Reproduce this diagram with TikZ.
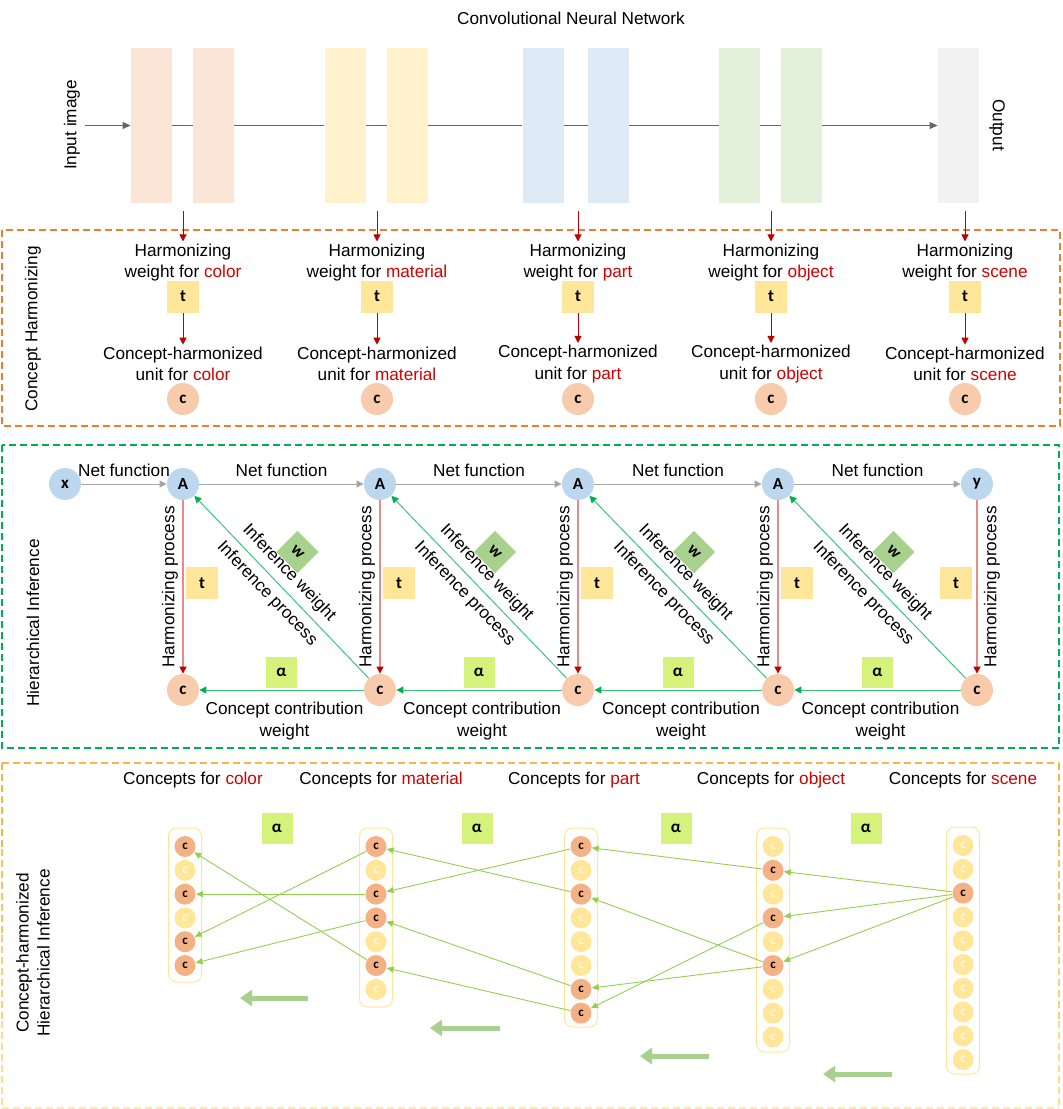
\documentclass[tikz,border=0pt]{standalone}
\usepackage{fontspec}
\setmainfont{Liberation Sans}
\newfontfamily\glyphfont{Carlito}
\usetikzlibrary{arrows.meta}

\definecolor{layerpeach}{HTML}{FBE5D6}
\definecolor{layeryellow}{HTML}{FFF2CC}
\definecolor{layerblue}{HTML}{DEEBF7}
\definecolor{layergreen}{HTML}{E2F0D9}
\definecolor{layergrey}{HTML}{F2F2F2}
\definecolor{conceptred}{HTML}{D20000}
\definecolor{unitpeach}{HTML}{F8CBAD}
\definecolor{actblue}{HTML}{BDD7EE}
\definecolor{harmyellow}{HTML}{FFE699}
\definecolor{alphalime}{HTML}{D5F27B}
\definecolor{weightgreen}{HTML}{A9D18E}
\definecolor{darkorange}{HTML}{F4B183}
\definecolor{paleyellow}{HTML}{FFF6DA}
\definecolor{boxorange}{HTML}{ED7D31}
\definecolor{boxgreen}{HTML}{00B050}
\definecolor{boxamber}{HTML}{F7B547}
\definecolor{boxpale}{HTML}{FFE8A8}
\definecolor{linkgreen}{HTML}{92D050}
\definecolor{infgreen}{HTML}{3CC47A}
\definecolor{harmpink}{HTML}{E98A8A}
\definecolor{harmred}{HTML}{C00000}

\tikzset{
  layer/.style={rectangle, minimum width=20.5pt, minimum height=77.5pt, inner sep=0pt},
  cnnline/.style={draw=black!60, line width=0.5pt},
  twoline/.style={align=center, inner sep=1pt},
  glyph/.style={font=\glyphfont\bfseries\fontsize{8.5}{10}\selectfont, text=black},
  tbox/.style={glyph, rectangle, fill=harmyellow, minimum size=16pt, inner sep=0pt},
  abox/.style={glyph, rectangle, fill=alphalime, minimum size=15.5pt, inner sep=0pt},
  wbox/.style={glyph, rectangle, fill=weightgreen, minimum size=15pt, inner sep=0pt, rotate=-45},
  cnode/.style={glyph, circle, fill=unitpeach, minimum size=16pt, inner sep=0pt},
  anode/.style={glyph, circle, fill=actblue, minimum size=16pt, inner sep=0pt},
  cdark/.style={circle, fill=darkorange, minimum size=10.5pt, inner sep=0pt,
    font=\glyphfont\bfseries\fontsize{6.5}{7}\selectfont, text=black},
  clight/.style={cdark, fill=harmyellow, text=paleyellow},
  colframe/.style={draw=harmyellow, line width=0.5pt, rounded corners=4pt},
  dashbox/.style={line width=0.7pt, dash pattern=on 3.5pt off 2pt},
  redarrow/.style={draw=harmred, line width=0.5pt, -{Triangle[length=3.5pt,width=3.5pt]}},
  netarrow/.style={draw=black!35, line width=0.5pt, -{Triangle[length=3.5pt,width=3.5pt]}},
  harmline/.style={draw=harmpink, line width=0.6pt, -{Triangle[length=3.5pt,width=3.5pt,color=harmred]}},
  infarrow/.style={draw=infgreen, line width=0.5pt, -{Triangle[length=3.5pt,width=3.5pt,color=boxgreen]}},
  conarrow/.style={draw=linkgreen, line width=0.45pt, -{Triangle[length=3.5pt,width=3pt]}},
  flowarrow/.style={draw=weightgreen, line width=2.5pt, -{Triangle[length=6pt,width=8pt]}}
}

\begin{document}
\begin{tikzpicture}[x=0.5pt, y=-0.5pt, font=\fontsize{8.6}{10.6}\selectfont]
\useasboundingbox (0,0) rectangle (1063,1109);

% convolutional network
\node (cnn) at (571,18) {Convolutional Neural Network};
\foreach \x/\col [count=\i] in {151.5/layerpeach, 213.5/layerpeach, 345/layeryellow, 407.5/layeryellow,
    543/layerblue, 608.5/layerblue, 739.5/layergreen, 801.5/layergreen, 958.5/layergrey}
  \node[layer, fill=\col] (L\i) at (\x,125.5) {};
\coordinate (img) at (85,125.5);
\draw[cnnline, -{Triangle[length=4pt,width=3.5pt]}] (img) -- (L1);
\foreach \i/\j in {1/2,2/3,3/4,4/5,5/6,6/7,7/8}
  \draw[cnnline] (L\i) -- (L\j);
\draw[cnnline, -{Triangle[length=4pt,width=3.5pt]}] (L8) -- (L9);
\node[rotate=90] (inlbl) at (72,125) {Input image};
\node[rotate=-90] (outlbl) at (997,125) {Output};

% concept harmonizing
\draw[dashbox, draw=boxorange] (2,230) rectangle (1060,426);
\node[rotate=90] (chlbl) at (33,329) {Concept Harmonizing};
\foreach \x/\cpt [count=\n] in {183/color, 377/material, 578/part, 771/object, 965/scene}{
  \coordinate (tap\n) at (\x,211);
  \node[twoline] (hw\n) at (\x,262.5) {Harmonizing\\weight for \textcolor{conceptred}{\cpt}};
  \node[tbox] (ht\n) at (\x,296.5) {t};
  \node[twoline] (hu\n) at (\x,364) {Concept-harmonized\\unit for \textcolor{conceptred}{\cpt}};
  \node[cnode] (hc\n) at (\x,399) {c};
  \draw[redarrow] (tap\n) -- (hw\n);
  \draw[redarrow] (ht\n) -- (hu\n);
}

% hierarchical inference
\draw[dashbox, draw=boxgreen] (2,445) rectangle (1059,748);
\node[rotate=90] (hilbl) at (33,623) {Hierarchical Inference};
\node[anode] (top0) at (65,484) {x};
\foreach \x [count=\i] in {183,380,578,778}
  \node[anode] (top\i) at (\x,484) {A};
\node[anode] (top5) at (977,484) {y};
\foreach \x [count=\i] in {183,380,578,778,977}
  \node[cnode] (bot\i) at (\x,690) {c};
\draw[netarrow] (top0) -- (top1) node[midway, above] (nf1) {Net function};
\foreach \i/\hx/\tx in {1/170/202, 2/367/399, 3/565/597, 4/765/797, 5/992/956}{
  \draw[harmline] (top\i) -- (bot\i);
  \node[rotate=90] (hp\i) at (\hx,587) {Harmonizing process};
  \node[tbox] (tt\i) at (\tx,583) {t};
}
\foreach \i/\j/\mx in {1/2/281.5, 2/3/479, 3/4/678, 4/5/877.5}{
  \draw[netarrow] (top\i) -- (top\j) node[midway, above] (nf\j) {Net function};
  \draw[infarrow] (bot\j) -- (top\i)
    node[pos=0.52, sloped, above] (iw\i) {Inference weight}
    node[pos=0.52, sloped, below] (ip\i) {Inference process};
  \node[wbox] (w\i) at (\mx+16,552) {w};
  \node[abox] (al\i) at (\mx,672) {α};
  \draw[infarrow] (bot\j) -- (bot\i);
  \node[twoline] (cw\i) at (\mx+3,721) {Concept contribution\\weight};
}

% concept-harmonized hierarchical inference
\draw[dashbox, draw=boxamber] (2,763) -- (1059,763);
\foreach \ya/\yb/\pct in {763/849/100, 849/935/75, 935/1021/50, 1021/1108/25}{
  \draw[dashbox, draw=boxamber!\pct!boxpale] (2,\ya) -- (2,\yb);
  \draw[dashbox, draw=boxamber!\pct!boxpale] (1059,\ya) -- (1059,\yb);
}
\draw[dashbox, draw=boxpale] (2,1108) -- (1059,1108);
\node[rotate=90, align=center] (chhlbl) at (33,953) {Concept-harmonized\\Hierarchical Inference};
\foreach \x/\cpt [count=\n] in {193/color, 381/material, 574/part, 771/object, 963/scene}
  \node (hd\n) at (\x,780) {Concepts for \textcolor{conceptred}{\cpt}};
\draw[colframe] (168.5,828) rectangle (201.5,982);
\draw[colframe] (359.5,828) rectangle (392.5,1007);
\draw[colframe] (564.5,828) rectangle (597.5,1027);
\draw[colframe] (756.5,828) rectangle (789.5,1052);
\draw[colframe] (946.5,827) rectangle (979.5,1074);
\foreach \m/\s in {1/cdark,2/clight,3/cdark,4/clight,5/cdark,6/cdark}
  \node[\s] (k1-\m) at (185,{846.5+(\m-1)*23.8}) {c};
\foreach \m/\s in {1/cdark,2/clight,3/cdark,4/cdark,5/clight,6/cdark,7/clight}
  \node[\s] (k2-\m) at (376,{846.5+(\m-1)*23.8}) {c};
\foreach \m/\s in {1/cdark,2/clight,3/cdark,4/clight,5/clight,6/clight,7/cdark,8/cdark}
  \node[\s] (k3-\m) at (581,{846.5+(\m-1)*23.8}) {c};
\foreach \m/\s in {1/clight,2/cdark,3/clight,4/cdark,5/clight,6/cdark,7/clight,8/clight,9/clight}
  \node[\s] (k4-\m) at (773,{846.5+(\m-1)*23.8}) {c};
\foreach \m/\s in {1/clight,2/clight,3/cdark,4/clight,5/clight,6/clight,7/clight,8/clight,9/clight,10/clight}
  \node[\s] (k5-\m) at (963,{845.5+(\m-1)*23.8}) {c};
\foreach \a/\b in {k5-3/k4-2, k5-3/k4-4, k5-3/k4-6, k4-2/k3-1, k4-4/k3-8, k4-6/k3-3, k4-6/k3-7,
    k3-1/k2-3, k3-3/k2-1, k3-7/k2-4, k3-8/k2-6, k2-1/k1-5, k2-3/k1-3, k2-4/k1-6, k2-6/k1-1}
  \draw[conarrow] (\a) -- (\b);
\foreach \x [count=\i] in {277,477,676,866}
  \node[abox] (ba\i) at (\x,828) {α};
\foreach \xa/\xb/\yy [count=\i] in {308/240/998, 500/430/1028, 709/640/1056, 892/823/1074}{
  \coordinate (fs\i) at (\xa,\yy);
  \coordinate (fe\i) at (\xb,\yy);
  \draw[flowarrow] (fs\i) -- (fe\i);
}
\end{tikzpicture}
\end{document}
